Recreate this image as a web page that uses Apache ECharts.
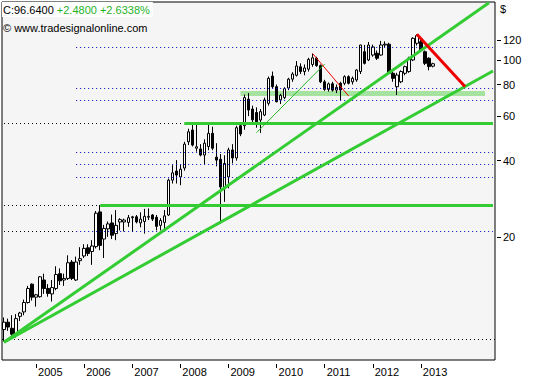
<!DOCTYPE html>
<html><head><meta charset="utf-8">
<script src="https://cdn.jsdelivr.net/npm/echarts@6/dist/echarts.min.js"></script>
<style>html,body{margin:0;padding:0;background:#fff;}#c{width:533px;height:380px;}</style>
</head><body><div id="c"></div>
<script>
// Monthly categories May 2004 .. Jul 2014 (data until Apr 2013, rest is empty space)
const startYear = 2004, startMonth = 5, monthCount = 123;
const categories = [];
for (let k = 0; k < monthCount; k++) {
  const m = startMonth - 1 + k;
  categories.push((startYear + Math.floor(m / 12)) + '-' + String(m % 12 + 1).padStart(2, '0'));
}
const yearLabels = ['2005', '2006', '2007', '2008', '2009', '2010', '2011', '2012', '2013'];
const opens = [8.6,9.2,8.7,8.2,9.7,10.1,11.0,13.0,11.55,11.6,13.5,12.5,11.9,12.5,14.3,13.5,13.7,15.9,13.5,16.1,
  16.8,18.1,17.5,18.3,25.1,19.6,21.5,22.7,20.6,22.9,22.9,22.8,23.8,24.0,22.7,23.0,23.9,24.4,23.9,22.2,
  22.8,24.4,33.5,36.4,34.5,37.4,47.5,52.9,44.8,44.5,42.1,45.5,51.3,41.3,40.5,31.0,34.5,44.1,41.0,55.0,
  55.0,70.0,64.0,62.0,57.9,60.6,67.4,86.4,78.4,69.5,71.0,77.5,84.0,87.0,94.0,90.0,92.0,96.0,101.5,95.0,
  82.0,76.5,80.5,76.0,80.9,80.9,85.9,82.0,83.4,90.0,107.8,100.0,104.6,106.3,104.6,114.6,115.4,88.6,78.4,82.0,
  88.6,90.0,100.0,116.4,118.0,107.8,101.6,94.5];
const highs = [9.6,9.5,9.8,9.9,10.1,11.3,12.8,13.1,11.9,14.0,14.3,13.0,13.5,15.3,15.0,14.3,16.9,16.2,16.7,18.2,
  18.7,18.7,19.4,25.3,26.7,22.3,23.0,24.5,25.5,23.7,23.6,24.4,24.2,24.4,25.0,25.8,25.9,24.6,24.4,23.7,
  25.5,34.0,38.4,40.2,38.5,47.5,53.5,55.7,55.7,46.5,48.6,55.7,54.5,46.9,42.5,42.0,45.0,46.5,55.0,56.0,
  73.0,74.0,66.0,65.0,64.0,71.0,86.0,90.0,80.0,73.5,78.0,85.0,89.5,99.0,97.0,96.0,102.0,106.0,103.0,96.0,
  83.5,81.5,82.0,80.0,82.0,87.0,87.0,86.0,92.0,115.0,114.6,117.8,115.0,109.0,119.0,118.5,117.0,90.0,89.0,91.0,
  95.0,103.0,123.0,126.3,120.0,109.0,102.5,97.5];
const lows = [7.7,8.5,8.0,8.0,9.3,9.8,10.9,11.2,10.6,11.5,11.9,11.6,11.1,12.3,12.9,12.8,13.5,13.5,13.4,15.5,
  16.5,16.8,15.5,18.0,17.7,16.5,20.0,19.6,19.4,21.2,21.0,21.9,20.9,22.6,21.8,20.6,23.3,23.1,21.2,21.2,
  20.9,24.2,32.5,32.5,32.0,36.5,46.1,45.5,43.4,41.6,38.8,44.0,44.0,38.0,22.6,27.5,31.1,39.0,40.0,50.0,
  53.0,60.0,56.0,54.0,51.5,60.0,66.0,77.0,68.0,67.0,70.0,76.0,82.0,86.0,88.0,87.0,90.0,94.0,94.0,81.0,
  75.5,75.0,75.0,74.0,69.5,79.5,80.0,80.0,82.0,88.0,96.0,99.0,103.0,100.0,104.0,112.0,88.0,82.0,72.7,81.0,
  87.0,89.0,99.0,114.0,108.0,95.5,91.0,93.5];
const closes = [9.2,8.8,8.25,9.5,10.0,11.0,12.5,11.55,11.8,13.9,12.5,11.95,12.6,14.2,13.4,13.7,15.8,13.7,15.9,16.4,
  18.0,17.2,18.4,24.8,18.5,21.6,22.5,20.3,22.2,23.4,23.3,23.8,24.0,22.9,23.5,24.1,24.1,23.5,22.0,23.2,
  24.2,33.5,35.8,35.1,37.0,46.5,52.0,46.1,45.4,42.1,46.9,51.3,44.8,40.2,31.5,39.0,44.1,41.0,54.0,51.0,
  71.0,63.4,58.0,57.0,62.5,69.5,84.6,78.4,68.4,72.5,77.0,84.0,88.0,94.7,90.0,93.0,100.5,102.0,95.0,82.0,
  76.5,80.5,76.0,78.0,76.1,85.9,80.9,84.6,91.3,114.6,97.0,114.6,112.6,101.6,114.6,115.5,88.6,84.6,87.2,90.0,
  94.1,101.6,121.8,124.8,109.5,97.0,94.2,96.64];
const yTicks = [20, 40, 60, 80, 100, 120];
// reference levels (price values)
const blueLevels = [112.3, 77.3, 69.5, 43.0, 38.8, 34.4, 21.1];
const blueFrom = 18;
const greenLevels = [[56.4, 45], [26.6, 24]];   // [price, first month index]
const blackFullLevels = [7.85];
const blackLeftLevels = [[56.4, 45], [26.6, 24], [21.1, 18]];
const bandRange = [72.1, 75.4], bandFrom = 59, bandTo = 120;
const greenTrends = [[[0, 7.66], [121, 168.3]], [[0, 7.66], [122, 90.5]]];
const thinGreenTrends = [[[63, 51.6], [80, 96.4]]];
const thinRedTrends = [[[77, 106], [86, 72]]];
const redTrends = [[[103, 126.3], [115, 78.5]]];

const lastIdx = monthCount - 1;
const FONT = 'Liberation Sans';
const candleData = opens.map((o, i) => [o, closes[i], lows[i], highs[i]]);
const seg = (a, b, style) => [{ coord: a, lineStyle: style }, { coord: b }];
const lines = [];
blackFullLevels.forEach(v => lines.push({ yAxis: v, lineStyle: { color: '#000', type: [1, 3], width: 1 } }));
blackLeftLevels.forEach(([v, e]) => lines.push(seg([0, v], [e, v], { color: '#000', type: [1, 3], width: 1 })));
blueLevels.forEach(v => lines.push(seg([blueFrom, v], [lastIdx, v], { color: '#0000cc', type: [1, 3], width: 1 })));
greenLevels.forEach(([v, s]) => lines.push(seg([s, v], [lastIdx, v], { color: '#33cc33', type: 'solid', width: 3 })));
const trendLines = [];
greenTrends.forEach(([a, b]) => trendLines.push(seg(a, b, { color: '#33cc33', type: 'solid', width: 3 })));
thinGreenTrends.forEach(([a, b]) => trendLines.push(seg(a, b, { color: '#22bb22', type: 'solid', width: 1 })));
thinRedTrends.forEach(([a, b]) => trendLines.push(seg(a, b, { color: '#ee0000', type: 'solid', width: 1 })));
redTrends.forEach(([a, b]) => trendLines.push(seg(a, b, { color: '#ee0000', type: 'solid', width: 3 })));

const isYearStart = (idx, val) => val.slice(5) === '01' && yearLabels.indexOf(val.slice(0, 4)) >= 0;
const chart = echarts.init(document.getElementById('c'), null, { renderer: 'svg' });
chart.setOption({
  animation: false,
  backgroundColor: '#fff',
  textStyle: { fontFamily: FONT },
  title: [
    { text: '{a|C:96.6400} {b|+2.4800 +2.6338%}', left: 2, top: 2, padding: [2, 3, 2, 1], backgroundColor: '#fff',
      textStyle: { fontWeight: 'normal', fontSize: 11, fontFamily: FONT,
        rich: { a: { color: '#000', fontSize: 11, fontWeight: 'normal', fontFamily: FONT }, b: { color: '#1fb31f', fontSize: 11, fontWeight: 'normal', fontFamily: FONT } } } },
    { text: '© www.tradesignalonline.com', left: 2, top: 20, padding: [2, 3, 2, 1],
      textStyle: { color: '#000', fontSize: 11, fontWeight: 'normal', fontFamily: FONT } },
    { text: '$', left: 500, top: 3, padding: 0, textStyle: { color: '#000', fontSize: 11, fontWeight: 'normal', fontFamily: FONT } }
  ],
  grid: { left: 2, right: 38, top: 2, bottom: 20, show: true, backgroundColor: '#f5f5f5', borderColor: '#000', borderWidth: 1 },
  xAxis: {
    type: 'category', data: categories, boundaryGap: true, offset: 4,
    axisLine: { show: false },
    axisTick: { show: true, alignWithLabel: true, length: 4, interval: isYearStart, lineStyle: { color: '#000' } },
    axisLabel: { interval: isYearStart, formatter: v => v.slice(0, 4), align: 'left', margin: 2, padding: [0, 0, 0, 2], color: '#000', fontSize: 11, fontFamily: FONT },
    splitLine: { show: false }
  },
  yAxis: {
    type: 'log', logBase: 10, min: 6.52, max: 169.5, position: 'right', offset: 2,
    axisLine: { show: false },
    axisTick: { show: true, length: 4, customValues: yTicks, lineStyle: { color: '#000' } },
    axisLabel: { customValues: yTicks, margin: 6, color: '#000', fontSize: 11, fontFamily: FONT },
    splitLine: { show: false }
  },
  series: [
    { type: 'line', data: [], silent: true,
      markArea: { silent: true, itemStyle: { color: '#a6e3a0' }, data: [[{ coord: [bandFrom, bandRange[0]] }, { coord: [bandTo, bandRange[1]] }]] },
      markLine: { silent: true, symbol: ['none', 'none'], label: { show: false }, data: lines }, z: 1 },
    { type: 'candlestick', data: candleData, barWidth: 3, z: 3,
      itemStyle: { color: '#fff', color0: '#000', borderColor: '#000', borderColor0: '#000', borderWidth: 1 } },
    { type: 'line', data: [], silent: true, z: 4,
      markLine: { silent: true, symbol: ['none', 'none'], label: { show: false }, data: trendLines } }
  ]
});
</script></body></html>
